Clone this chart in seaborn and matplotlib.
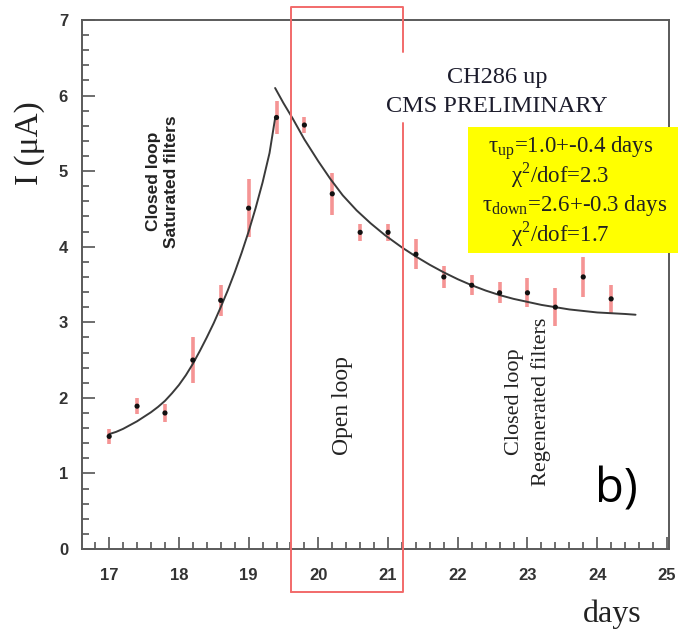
import matplotlib
matplotlib.use('Agg')
import matplotlib.pyplot as plt
from matplotlib.patches import Rectangle
from matplotlib.ticker import MultipleLocator
import seaborn as sns
import pandas as pd

# measured points (days, current in uA, error)
days = [17.0, 17.4, 17.8, 18.2, 18.6, 19.0, 19.4, 19.8, 20.2, 20.6,
        21.0, 21.4, 21.8, 22.2, 22.6, 23.0, 23.4, 23.8, 24.2]
current = [1.49, 1.89, 1.80, 2.50, 3.29, 4.51, 5.71, 5.61, 4.70, 4.19,
           4.19, 3.90, 3.60, 3.49, 3.39, 3.39, 3.20, 3.60, 3.31]
err = [0.10, 0.11, 0.12, 0.30, 0.21, 0.38, 0.22, 0.10, 0.28, 0.11,
       0.11, 0.20, 0.14, 0.13, 0.14, 0.19, 0.25, 0.27, 0.19]

# fit curves
rise_x = [17.0, 17.1, 17.2, 17.3, 17.4, 17.5, 17.6, 17.7, 17.8, 17.9, 18.0, 18.1, 18.2,
          18.3, 18.4, 18.5, 18.6, 18.7, 18.8, 18.9, 19.0, 19.1, 19.2, 19.3, 19.38]
rise_y = [1.52, 1.55, 1.59, 1.64, 1.69, 1.75, 1.81, 1.88, 1.96, 2.06, 2.17, 2.30, 2.45,
          2.62, 2.80, 2.99, 3.20, 3.42, 3.66, 3.92, 4.20, 4.51, 4.85, 5.24, 5.70]
fall_x = [19.38, 19.5, 19.63, 19.8, 20.0, 20.17, 20.35, 20.55, 20.75, 20.96,
          21.2, 21.4, 21.6, 21.8, 22.0, 22.2, 22.4, 22.6, 22.8, 23.0, 23.2,
          23.4, 23.6, 23.8, 24.0, 24.2, 24.4, 24.55]
fall_y = [6.10, 5.90, 5.70, 5.42, 5.13, 4.90, 4.68, 4.48, 4.31, 4.15,
          3.99, 3.87, 3.76, 3.66, 3.57, 3.49, 3.42, 3.36, 3.31, 3.27, 3.23,
          3.20, 3.17, 3.15, 3.13, 3.12, 3.11, 3.10]

fit_lines = ['\u03c4$_{\\mathrm{up}}$=1.0+-0.4 days', '\u03c7$^{2}$/dof=2.3',
             '\u03c4$_{\\mathrm{down}}$=2.6+-0.3 days', '\u03c7$^{2}$/dof=1.7']

sns.set_style('white')
plt.rcParams['font.family'] = ['Liberation Serif', 'DejaVu Serif']
plt.rcParams['mathtext.fontset'] = 'custom'
plt.rcParams['mathtext.rm'] = 'Liberation Serif'

fig = plt.figure(figsize=(6.78, 6.34), dpi=100)
ax = fig.add_axes([82/678, 1-549/634, 587/678, 529/634])

df = pd.DataFrame({'days': days, 'I': current})
rise = pd.DataFrame({'x': rise_x, 'y': rise_y})
fall = pd.DataFrame({'x': fall_x, 'y': fall_y})

ax.vlines(days, [c - e for c, e in zip(current, err)], [c + e for c, e in zip(current, err)],
          color='#f59494', lw=2.6, zorder=2)
sns.lineplot(data=rise, x='x', y='y', ax=ax, color='#3a3a3a', lw=1.4, sort=False, zorder=3)
sns.lineplot(data=fall, x='x', y='y', ax=ax, color='#3a3a3a', lw=1.4, sort=False, zorder=3)
sns.scatterplot(data=df, x='days', y='I', ax=ax, color='#111111', s=14, edgecolor='none', zorder=4)

ax.set_xlim(16.61, 25.03)
ax.set_ylim(0, 7)
ax.xaxis.set_major_locator(MultipleLocator(1))
ax.xaxis.set_minor_locator(MultipleLocator(0.2))
ax.yaxis.set_major_locator(MultipleLocator(1))
ax.yaxis.set_minor_locator(MultipleLocator(0.2))
ax.tick_params(which='both', direction='in', bottom=True, left=True, top=False, right=False,
               color='#555555', width=1.2)
ax.tick_params(which='major', length=9)
ax.tick_params(which='minor', length=5)
ax.tick_params(axis='x', pad=14)
ax.tick_params(axis='y', pad=10)
for lab in ax.get_yticklabels():
    lab.set_family('Liberation Sans')
    lab.set_fontweight('bold')
    lab.set_fontsize(12)
    lab.set_color('#333333')
xt = [17, 18, 19, 20, 21, 22, 23, 24, 25]
ax.set_xticks(xt)
ax.set_xticklabels([str(v) for v in xt], family='Liberation Sans', fontweight='bold', fontsize=12, color='#333333')
ax.set_xlabel('')
ax.set_ylabel('')
for s in ax.spines.values():
    s.set_color('#5a5a5a')
    s.set_linewidth(1.4)

# red box (open loop period), spills outside the frame
red = '#f26a6a'
bx0, bx1 = 19.61, 21.21
ax.plot([bx0, bx0, bx1, bx1], [-0.57, 7.17, 7.17, 6.58], color=red, lw=1.4, clip_on=False, zorder=5)
ax.plot([bx1, bx1, bx0], [5.64, -0.57, -0.57], color=red, lw=1.4, clip_on=False, zorder=5)

# labels
fig.text(30/678, 1-143/634, 'I (\u03bcA)', rotation=90, ha='center', va='center', fontsize=24, color='#222222')
fig.text(612/678, 1-622/634, 'days', ha='center', va='baseline', fontsize=23, color='#222222')
fig.text(616/678, 1-503/634, 'b)', ha='center', va='baseline', fontsize=34, family='Open Sans', color='black')

ax.text(17.76, 4.86, 'Closed loop\nSaturated filters', rotation=90, ha='center', va='center',
        family='Liberation Sans', fontweight='bold', fontsize=12.5, color='#222222', linespacing=1.25)
ax.text(20.35, 1.9, 'Open loop', rotation=90, ha='center', va='center', fontsize=17, color='#222222')
ax.text(23.01, 1.95, 'Closed loop\nRegenerated filters', rotation=90, ha='center', va='center',
        fontsize=16, color='#222222', linespacing=1.45)
ax.text(22.56, 6.17, 'CH286 up', ha='center', va='baseline', fontsize=17.5, color='#1c1c2c')
ax.text(22.56, 5.78, 'CMS PRELIMINARY', ha='center', va='baseline', fontsize=17.5, color='#1c1c2c')

# yellow fit summary box
fig.patches.append(Rectangle((468/678, 1-253/634), 210/678, 126/634, transform=fig.transFigure,
                             facecolor='#ffff00', edgecolor='none', zorder=6))
ys = [153, 183, 211, 241]
xs = [571, 560, 575, 560]
for t, yy, xx in zip(fit_lines, ys, xs):
    fig.text(xx/678, 1-yy/634, t, ha='center', va='baseline', fontsize=16.5, color='#222222', zorder=7)

fig.savefig('out.png', dpi=100)
